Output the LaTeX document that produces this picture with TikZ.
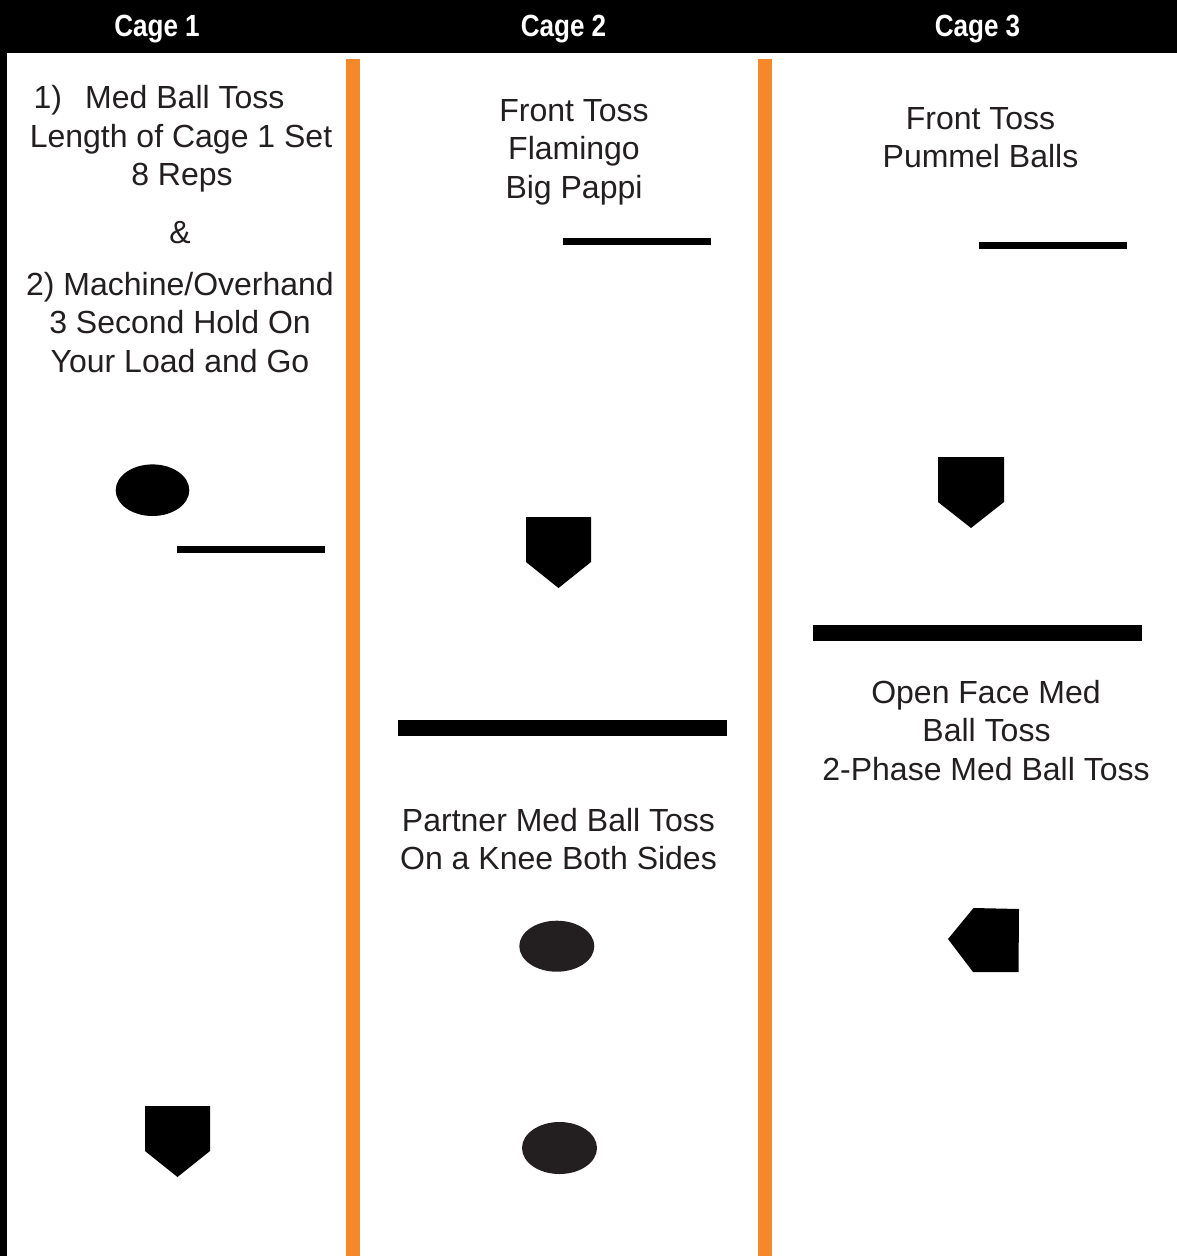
\documentclass[tikz,border=0pt]{standalone}
\usepackage{fontspec}
\setmainfont{Liberation Sans}
\definecolor{cageorange}{RGB}{245,137,41}
\definecolor{ink}{RGB}{35,31,32}
\begin{document}
\begin{tikzpicture}[x=0.75pt,y=-0.75pt,
  txt/.style={font=\fontsize{24}{29}\selectfont, text=ink, inner sep=0pt, anchor=base},
  head/.style={font=\bfseries\fontsize{23}{27}\selectfont, text=white, inner sep=0pt, anchor=base},
  plate/.style={fill=black, draw=none},
  ball/.style={fill=ink, draw=none}]
\useasboundingbox (0,0) rectangle (1177,1256);
\fill[white] (0,0) rectangle (1177,1256);
% header bar and left border
\fill[black] (0,0) rectangle (1177,53);
\fill[black] (0,53) rectangle (7,1256);
% orange dividers
\fill[cageorange] (346,59) rectangle (360,1256);
\fill[cageorange] (758,59) rectangle (772,1256);
% headers
\node[head] (h1) at (157,37) {\scalebox{0.85}[1]{Cage 1}};
\node[head] (h2) at (563.5,37) {\scalebox{0.85}[1]{Cage 2}};
\node[head] (h3) at (977.5,37) {\scalebox{0.85}[1]{Cage 3}};
% Cage 1 text
\node[txt] (a1) at (159,108.5) {1)\hspace{0.45em} Med Ball Toss};
\node[txt] (a2) at (181,147) {Length of Cage 1 Set};
\node[txt] (a3) at (182,185) {8 Reps};
\node[txt] (a4) at (180,243) {\&};
\node[txt] (a5) at (180,295.5) {2) Machine/Overhand};
\node[txt] (a6) at (180,333.5) {3 Second Hold On};
\node[txt] (a7) at (180,372) {Your Load and Go};
% Cage 2 text
\node[txt] (b1) at (574,121.5) {Front Toss};
\node[txt] (b2) at (574,159.5) {Flamingo};
\node[txt] (b3) at (574,198) {Big Pappi};
\node[txt] (b4) at (558.5,831.5) {Partner Med Ball Toss};
\node[txt] (b5) at (558.5,869.5) {On a Knee Both Sides};
% Cage 3 text
\node[txt] (c1) at (980.5,129.5) {Front Toss};
\node[txt] (c2) at (980.5,167.5) {Pummel Balls};
\node[txt] (c3) at (986,703) {Open Face Med};
\node[txt] (c4) at (986.5,741.5) {Ball Toss};
\node[txt] (c5) at (986,780) {2-Phase Med Ball Toss};
% lines
\fill[black] (177,545.7) rectangle (325,552.7);
\fill[black] (563,237.5) rectangle (711,244.5);
\fill[black] (979,241.5) rectangle (1127,248.5);
\fill[black] (398,720) rectangle (727,735.7);
\fill[black] (813,625) rectangle (1142,640.7);
% balls
\fill[black] (152.5,490.2) ellipse [x radius=36.8, y radius=25.8];
\fill[ball] (556.8,946.2) ellipse [x radius=37.5, y radius=25.5];
\fill[ball] (559.5,1148) ellipse [x radius=37.5, y radius=26];
% home plates
\fill[plate] (145,1106) -- (210,1106) -- (210,1151) -- (177.5,1177) -- (145,1151) -- cycle;
\fill[plate] (526,517) -- (591,517) -- (591,562) -- (558.5,588) -- (526,562) -- cycle;
\fill[plate] (938,457) -- (1004,457) -- (1004,502) -- (971,528) -- (938,502) -- cycle;
\fill[plate] (973.5,908) -- (1019,909) -- (1018.5,972) -- (973,972) -- (948,939) -- cycle;
\end{tikzpicture}
\end{document}
